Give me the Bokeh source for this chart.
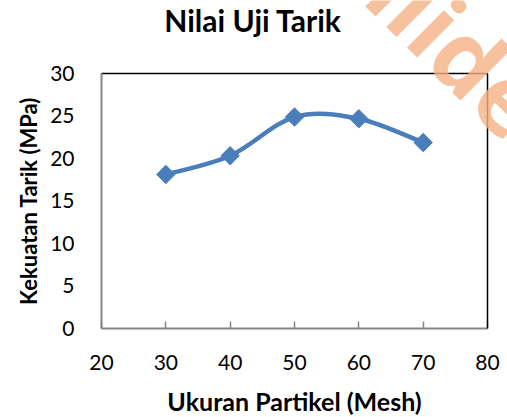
import numpy as np
from bokeh.plotting import figure
from bokeh.models import Range1d, FixedTicker, LinearAxis, Label
from bokeh.embed import file_html
from bokeh.resources import INLINE

# ---- data ----
mesh = [30, 40, 50, 60, 70]
strength = [18.1, 20.3, 24.85, 24.65, 21.85]
x_ticks = [20, 30, 40, 50, 60, 70, 80]
y_ticks = [0, 5, 10, 15, 20, 25, 30]
x_bounds = (20, 80)
y_bounds = (0, 30)
title_text = "Nilai Uji Tarik"
x_title = "Ukuran Partikel (Mesh)"
y_title = "Kekuatan Tarik (MPa)"
watermark = "ilide"

FONT = "Lato"
BLUE = "#4a7ebb"
GREY = "#868686"

# the frame fills the whole canvas; the chart box (20..80 x 0..30) sits inside it
p = figure(width=507, height=417, x_range=Range1d(4.30, 83.11), y_range=Range1d(-10.47, 38.55),
           output_backend="svg", toolbar_location=None, min_border=0)

p.grid.visible = False
p.outline_line_color = None
p.background_fill_color = "white"
p.border_fill_color = "white"


def bare(ax):
    ax.major_tick_line_color = None
    ax.minor_tick_line_color = None
    ax.major_tick_in = 0
    ax.major_tick_out = 0
    ax.minor_tick_in = 0
    ax.minor_tick_out = 0


xa = p.xaxis[0]
xa.fixed_location = y_bounds[0]
xa.bounds = x_bounds
xa.ticker = FixedTicker(ticks=x_ticks)
xa.axis_line_color = GREY
xa.axis_line_width = 2
xa.major_tick_line_color = GREY
xa.major_tick_line_width = 1.5
xa.major_tick_in = 7
xa.major_tick_out = 0
xa.minor_tick_line_color = None
xa.major_label_text_font = FONT
xa.major_label_text_font_size = "21px"
xa.major_label_text_color = "black"
xa.major_label_standoff = 27
xa.axis_label = x_title
xa.axis_label_text_font = FONT
xa.axis_label_text_font_size = "25px"
xa.axis_label_text_font_style = "bold"
xa.axis_label_text_color = "black"
xa.axis_label_standoff = 12

ya = p.yaxis[0]
ya.fixed_location = x_bounds[0]
ya.bounds = y_bounds
ya.ticker = FixedTicker(ticks=y_ticks)
ya.axis_line_color = GREY
ya.axis_line_width = 2
bare(ya)
ya.major_label_text_font = FONT
ya.major_label_text_font_size = "21px"
ya.major_label_text_color = "black"
ya.major_label_standoff = 27
ya.axis_label = y_title
ya.axis_label_text_font = FONT
ya.axis_label_text_font_size = "22px"
ya.axis_label_text_font_style = "bold"
ya.axis_label_text_color = "black"
ya.axis_label_standoff = 5

# black top and right edges of the chart box
top = LinearAxis(fixed_location=y_bounds[1], bounds=x_bounds, ticker=FixedTicker(ticks=[]),
                 axis_line_color="black", axis_line_width=1.5, major_label_text_font_size="0px")
bare(top)
p.add_layout(top, "above")
right = LinearAxis(fixed_location=x_bounds[1], bounds=y_bounds, ticker=FixedTicker(ticks=[]),
                   axis_line_color="black", axis_line_width=1.5, major_label_text_font_size="0px")
bare(right)
p.add_layout(right, "right")

# smoothed line (Catmull-Rom style Bezier between the data points)
px = np.array(mesh, dtype=float)
py = np.array(strength, dtype=float)
ext_x = np.concatenate([[px[0]], px, [px[-1]]])
ext_y = np.concatenate([[py[0]], py, [py[-1]]])
n = len(px)
x0 = px[:-1]; y0 = py[:-1]; x1 = px[1:]; y1 = py[1:]
cx0 = x0 + (ext_x[2:n + 1] - ext_x[0:n - 1]) / 6.0
cy0 = y0 + (ext_y[2:n + 1] - ext_y[0:n - 1]) / 6.0
cx1 = x1 - (ext_x[3:n + 2] - ext_x[1:n]) / 6.0
cy1 = y1 - (ext_y[3:n + 2] - ext_y[1:n]) / 6.0
p.bezier(x0=x0, y0=y0, x1=x1, y1=y1, cx0=cx0, cy0=cy0, cx1=cx1, cy1=cy1,
         line_color=BLUE, line_width=4.5)

p.scatter(mesh, strength, marker="square", angle=np.pi / 4, size=13,
          fill_color=BLUE, line_color=BLUE)

# chart title
p.add_layout(Label(x=43.55, y=36.3, text=title_text, text_align="center",
                   text_baseline="alphabetic", text_font=FONT, text_font_size="30px",
                   text_font_style="bold", text_color="black"))

# watermark
p.add_layout(Label(x=64.3, y=41.61, text=watermark, text_align="left",
                   text_baseline="alphabetic", angle=-0.78, text_font="Open Sans",
                   text_font_size="96px", text_font_style="bold",
                   text_color="#f4b183", text_alpha=0.8))

open("out.html", "w").write(file_html(p, INLINE))
